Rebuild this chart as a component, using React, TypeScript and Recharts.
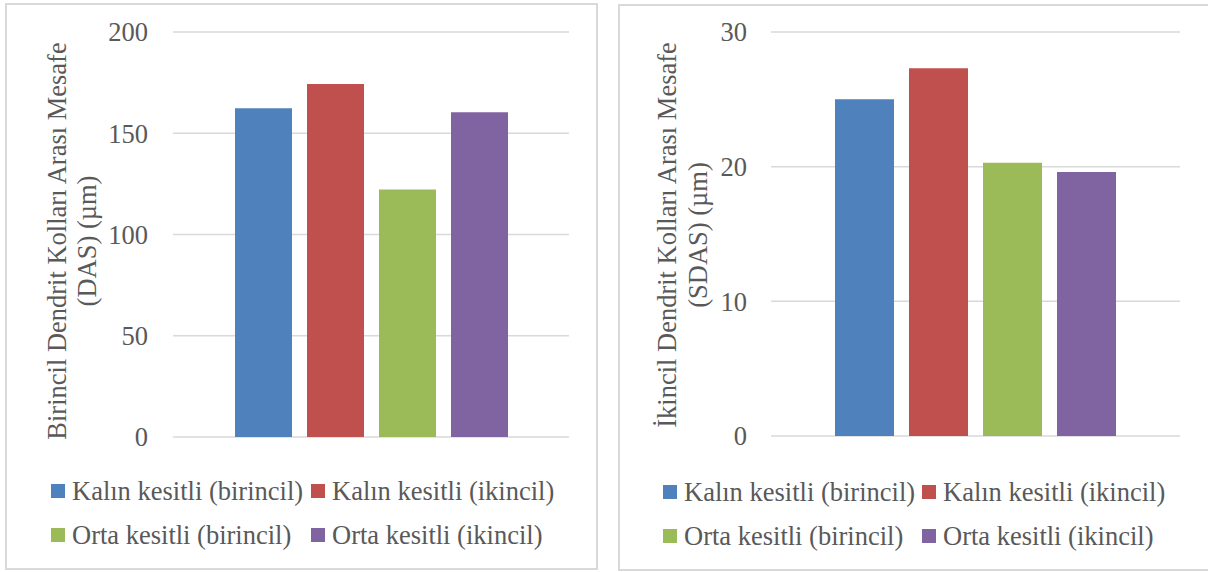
import React from 'react'
import { BarChart, Bar, XAxis, YAxis, CartesianGrid } from 'recharts'

const seriesNames = [
  'Kalın kesitli (birincil)',
  'Kalın kesitli (ikincil)',
  'Orta kesitli (birincil)',
  'Orta kesitli (ikincil)',
]
const seriesColors = ['#4F81BD', '#C0504D', '#9BBB59', '#8064A2']

const dasValues = [162.4, 174.3, 122.2, 160.4]
const sdasValues = [25.0, 27.3, 20.3, 19.6]

const dasTicks = [0, 50, 100, 150, 200]
const sdasTicks = [0, 10, 20, 30]

const FONT = '"Liberation Serif", "Times New Roman", serif'
const TEXT = '#595959'
const GRID = '#d9d9d9'
const FS = 26.5

const toRow = (values: number[]) => {
  const row: Record<string, number | string> = { name: '' }
  values.forEach((v, i) => { row['s' + i] = v })
  return [row]
}

interface PanelProps {
  left: number
  top: number
  width: number
  height: number
  values: number[]
  ticks: number[]
  titleLines: string[]
  titleX: number[]
  titleCy: number
  axisWidth: number
  margin: { top: number; right: number; bottom: number; left: number }
  tickMargin: number
  barSize: number
  legendX: number[]
}

function Panel(p: PanelProps) {
  const data = toRow(p.values)
  const renderTitle = () => (
    <g>
      {p.titleLines.map((line, i) => (
        <text
          key={i}
          x={0}
          y={0}
          transform={`translate(${p.titleX[i]}, ${p.titleCy}) rotate(-90)`}
          textAnchor="middle"
          fill={TEXT}
          fontSize={FS}
          fontFamily={FONT}
        >
          {line}
        </text>
      ))}
    </g>
  )
  return (
    <div
      style={{
        position: 'absolute',
        left: p.left,
        top: p.top,
        width: p.width,
        height: p.height,
        border: `2px solid ${GRID}`,
        boxSizing: 'border-box',
      }}
    >
      <div style={{ position: 'absolute', left: -2, top: -2 }}>
        <BarChart
          width={p.width}
          height={p.height}
          data={data}
          margin={p.margin}
          barSize={p.barSize}
          barGap={15}
        >
          <CartesianGrid vertical={false} stroke={GRID} strokeWidth={1.5} />
          <XAxis dataKey="name" hide />
          <YAxis
            domain={[p.ticks[0], p.ticks[p.ticks.length - 1]]}
            ticks={p.ticks}
            width={p.axisWidth}
            axisLine={false}
            tickLine={false}
            tickSize={0}
            tickMargin={p.tickMargin}
            tick={{ fontSize: FS, fill: TEXT, fontFamily: FONT }}
          />
          {seriesNames.map((n, i) => (
            <Bar key={n} dataKey={'s' + i} name={n} fill={seriesColors[i]} isAnimationActive={false} />
          ))}
          {renderTitle()}
        </BarChart>
        {seriesNames.map((n, i) => (
          <div
            key={n}
            style={{
              position: 'absolute',
              left: p.legendX[i % 2],
              top: i < 2 ? 488 - 17 : 532 - 17,
              height: 34,
              display: 'flex',
              alignItems: 'center',
              fontFamily: FONT,
              fontSize: FS,
              color: TEXT,
              whiteSpace: 'nowrap',
            }}
          >
            <span style={{ display: 'inline-block', width: 14, height: 14, background: seriesColors[i], marginRight: 7 }} />
            <span>{n}</span>
          </div>
        ))}
      </div>
    </div>
  )
}

export default function App() {
  return (
    <div
      style={{
        position: 'fixed',
        left: 0,
        top: 0,
        width: 1208,
        height: 572,
        background: '#fff',
        overflow: 'hidden',
      }}
    >
      <Panel
        left={5}
        top={3}
        width={593}
        height={567}
        values={dasValues}
        ticks={dasTicks}
        titleLines={['Birincil Dendrit Kolları Arası Mesafe', '(DAS) (µm)']}
        titleX={[61, 91]}
        titleCy={238}
        axisWidth={168}
        margin={{ top: 29, right: 29, bottom: 133, left: 0 }}
        tickMargin={25}
        barSize={57}
        legendX={[46, 306]}
      />
      <Panel
        left={618}
        top={4}
        width={592}
        height={567}
        values={sdasValues}
        ticks={sdasTicks}
        titleLines={['İkincil Dendrit Kolları Arası Mesafe', '(SDAS) (µm)']}
        titleX={[58, 89]}
        titleCy={231}
        axisWidth={153}
        margin={{ top: 28, right: 30, bottom: 135, left: 0 }}
        tickMargin={24}
        barSize={59}
        legendX={[45, 304]}
      />
    </div>
  )
}
